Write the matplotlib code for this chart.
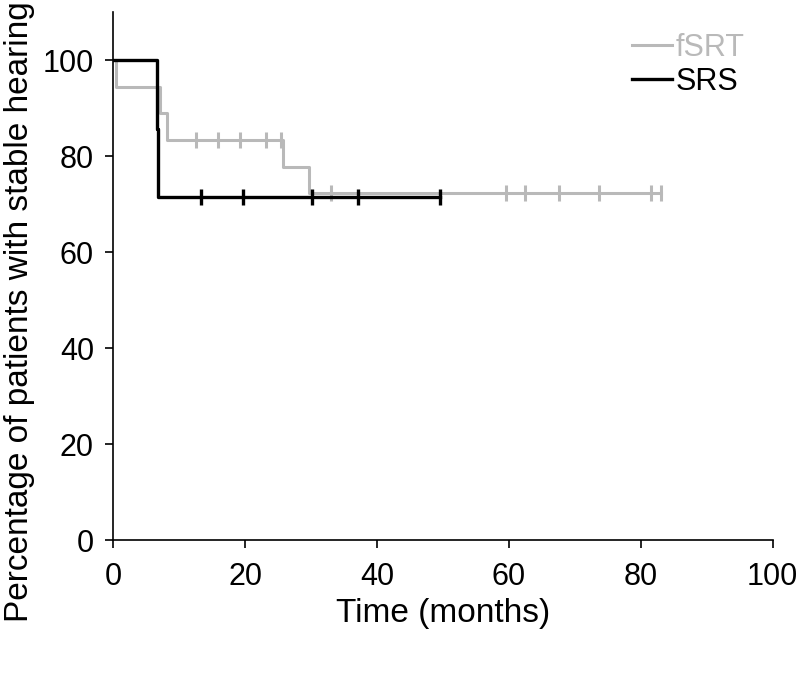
import numpy as np
import matplotlib
matplotlib.use("Agg")
import matplotlib.pyplot as plt

plt.rcParams['font.family'] = ['Liberation Sans', 'DejaVu Sans']

# fSRT Kaplan-Meier data
fsrt_times = [0, 0.4, 7.0, 8.2, 25.7, 29.6, 83.0]
fsrt_surv = [100, 94.4, 88.9, 83.3, 77.8, 72.2, 72.2]
fsrt_censor = [12.6, 15.8, 19.2, 23.2, 25.5, 33.0, 59.5, 62.5, 67.6, 73.7, 81.6, 83.0]

# SRS Kaplan-Meier data
srs_times = [0, 6.6, 6.8, 49.5]
srs_surv = [100, 85.7, 71.4, 71.4]
srs_censor = [13.3, 19.7, 30.1, 37.1, 49.5]

xticks = [0, 20, 40, 60, 80, 100]
yticks = [0, 20, 40, 60, 80, 100]

gray = '#b9b9b9'
black = '#000000'


def surv_at(times, surv, t):
    idx = np.searchsorted(times, t, side='right') - 1
    return np.array(surv)[idx]


fig = plt.figure(figsize=(8, 6.82), dpi=100)
ax = fig.add_axes([0.1417, 0.2082, 0.9659 - 0.1417, 0.9824 - 0.2082])

ax.step(fsrt_times, fsrt_surv, where='post', color=gray, lw=2.2, label='fSRT')
ax.plot(fsrt_censor, surv_at(fsrt_times, fsrt_surv, fsrt_censor), ls='none',
        marker='|', ms=11, mew=2.2, color=gray)
ax.step(srs_times, srs_surv, where='post', color=black, lw=2.4, label='SRS')
ax.plot(srs_censor, surv_at(srs_times, srs_surv, srs_censor), ls='none',
        marker='|', ms=11, mew=2.4, color=black)

ax.set_xlim(0, 100)
ax.set_ylim(0, 110)
ax.set_xticks(xticks)
ax.set_yticks(yticks)
ax.spines['top'].set_visible(False)
ax.spines['right'].set_visible(False)
ax.spines['left'].set_linewidth(1.2)
ax.spines['bottom'].set_linewidth(1.2)
ax.spines['bottom'].set_bounds(0, 100)
ax.tick_params(direction='out', length=6, width=1.2, labelsize=22)
ax.tick_params(axis='y', pad=8)
ax.tick_params(axis='x', pad=10)

ax.set_xlabel('Time (months)', fontsize=24, labelpad=4)
ax.set_ylabel('Percentage of patients with stable hearing', fontsize=24)
ax.yaxis.set_label_coords(-0.119, 0.432)

leg = ax.legend(loc='upper left', frameon=False, fontsize=22, handlelength=1.3,
                handletextpad=0.12, labelspacing=0.12, borderpad=0, borderaxespad=0,
                bbox_to_anchor=(632 / 800, 1 - 33 / 682), bbox_transform=fig.transFigure)
for txt, col in zip(leg.get_texts(), [gray, black]):
    txt.set_color(col)

fig.savefig('out.png', dpi=100)
